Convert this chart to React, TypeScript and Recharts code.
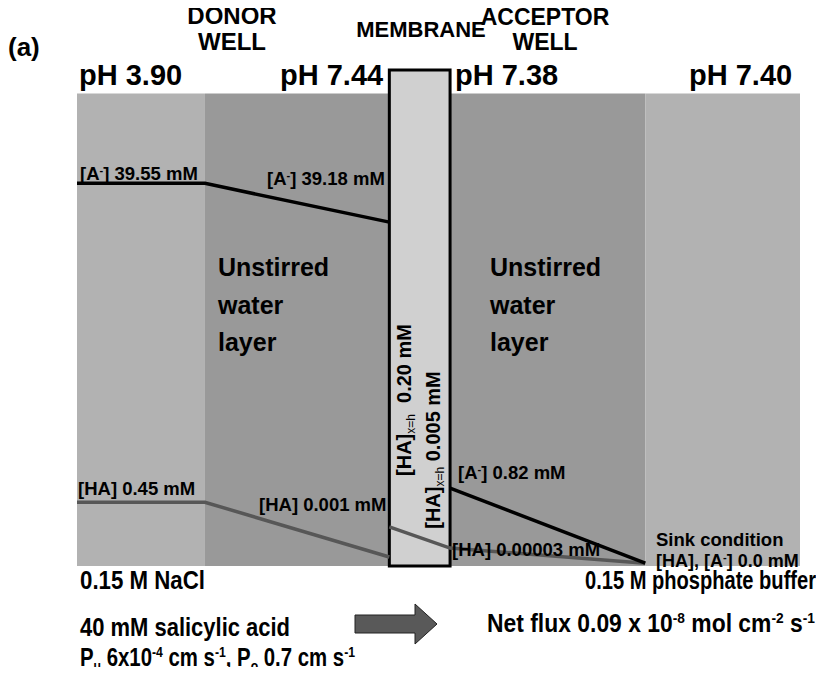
import React from 'react';
import { ComposedChart, Line, XAxis, YAxis, ReferenceArea } from 'recharts';

// schematic position across the cell (0 = donor bulk edge, 100 = acceptor bulk edge)
const regionEdges = [0, 17.7, 43.2, 51.6, 78.6, 100];
const regionNames = ['donor bulk', 'donor UWL', 'membrane', 'acceptor UWL', 'acceptor bulk'];
const regionTop = [100, 100, 105, 100, 100];

// drawn profile levels (schematic height, not to scale)
const donorX = [0, 17.7, 43.2];
const donorAminus = [81, 81, 72.8];
const donorHA = [13.5, 13.5, 1.9];
const acceptorX = [43.2, 51.6, 78.6];
const acceptorHA = [8.3, 3.8, 0.6];
const acceptorAminus = [null, 16.5, 0.6];

const pHLabels = ['pH 3.90', 'pH 7.44', 'pH 7.38', 'pH 7.40'];

const donorData = donorX.map((x, i) => ({ x, a: donorAminus[i], ha: donorHA[i] }));
const acceptorData = acceptorX.map((x, i) => ({ x, a: acceptorAminus[i], ha: acceptorHA[i] }));

const fills = ['#b2b2b2', '#999999', '#d0d0d0', '#999999', '#b2b2b2'];
const FONT = '"Liberation Sans", Arial, sans-serif';

type Part = [string, 'n' | 'sup' | 'sub' | 'subn'];

// text with super/subscripts; parts are [text, kind]
const R = ({ x, y, size = 18.5, anchor = 'start', parts, len, small }: any) => {
  const sm = small ?? Math.round(size * 0.6);
  const off = (k: string) => (k === 'sup' ? -size * 0.35 : k === 'sub' || k === 'subn' ? size * 0.2 : 0);
  let prev = 0;
  const list: Part[] = typeof parts === 'string' ? [[parts, 'n']] : parts;
  return (
    <text
      x={x}
      y={y}
      fontFamily={FONT}
      fontWeight="bold"
      fontSize={size}
      textAnchor={anchor}
      fill="#000"
      textLength={len}
      lengthAdjust={len ? 'spacingAndGlyphs' : undefined}
      xmlSpace="preserve"
    >
      {list.map(([t, k], i) => {
        const o = off(k);
        const dy = o - prev;
        prev = o;
        return (
          <tspan
            key={i}
            dy={dy || undefined}
            fontSize={k === 'n' ? size : sm}
            fontWeight={k === 'subn' ? 'normal' : 'bold'}
          >
            {t}
          </tspan>
        );
      })}
    </text>
  );
};

const Annotations = () => (
  <svg
    width={824}
    height={675}
    style={{ position: 'absolute', left: -8, top: -8, pointerEvents: 'none' }}
  >
    <R x={8} y={56} size={26} parts="(a)" />
    <R x={232} y={24} size={24} anchor="middle" parts="DONOR" />
    <R x={232} y={50} size={24} anchor="middle" parts="WELL" />
    <R x={421} y={37} size={22} anchor="middle" parts="MEMBRANE" />
    <R x={545} y={25} size={23} anchor="middle" parts="ACCEPTOR" />
    <R x={545} y={50} size={23} anchor="middle" parts="WELL" />
    {[79, 280, 455, 689].map((x, i) => (
      <R key={i} x={x} y={85} size={29} parts={pHLabels[i]} />
    ))}

    <R x={80} y={180} parts={[['[A', 'n'], ['-', 'sup'], ['] 39.55 mM', 'n']]} />
    <R x={267} y={185} parts={[['[A', 'n'], ['-', 'sup'], ['] 39.18 mM', 'n']]} />
    {[218, 490].map((x) => (
      <g key={x}>
        <R x={x} y={276} size={25} parts="Unstirred" />
        <R x={x} y={314} size={25} parts="water" />
        <R x={x} y={351} size={25} parts="layer" />
      </g>
    ))}
    <R x={78} y={495} parts="[HA] 0.45 mM" />
    <R x={259} y={511} parts="[HA] 0.001 mM" />
    <R x={458} y={479} parts={[['[A', 'n'], ['-', 'sup'], ['] 0.82 mM', 'n']]} />
    <R x={452} y={556} parts="[HA] 0.00003 mM" />
    <R x={656} y={546} size={18.5} parts="Sink condition" />
    <R x={656} y={567} size={18} parts={[['[HA], [A', 'n'], ['-', 'sup'], ['] 0.0 mM', 'n']]} />

    <g transform="translate(411,400) rotate(-90)">
      <R x={0} y={0} size={20} anchor="middle" small={12} parts={[['[HA]', 'n'], ['x=h', 'subn'], ['  0.20 mM', 'n']]} />
    </g>
    <g transform="translate(440,450) rotate(-90)">
      <R x={0} y={0} size={20} anchor="middle" small={12} parts={[['[HA]', 'n'], ['x=h', 'subn'], [' 0.005 mM', 'n']]} />
    </g>

    <R x={80} y={589} size={25} len={125} parts="0.15 M NaCl" />
    <R x={585} y={589} size={25} len={231} parts="0.15 M phosphate buffer" />
    <R x={80} y={636} size={25} len={210} parts="40 mM salicylic acid" />
    <R
      x={80}
      y={666}
      size={25}
      len={275}
      small={15}
      parts={[
        ['P', 'n'], ['u', 'sub'], [' 6x10', 'n'], ['-4', 'sup'], [' cm s', 'n'], ['-1', 'sup'],
        [', P', 'n'], ['o', 'sub'], [' 0.7 cm s', 'n'], ['-1', 'sup'],
      ]}
    />
    <polygon
      points="355,615 415,615 415,604 437,624 415,644 415,633 355,633"
      fill="#595959"
      stroke="#222"
      strokeWidth={1}
    />
    <R
      x={487}
      y={632}
      size={25}
      len={328}
      small={15}
      parts={[
        ['Net flux 0.09 x 10', 'n'], ['-8', 'sup'], [' mol cm', 'n'], ['-2', 'sup'], [' s', 'n'], ['-1', 'sup'],
      ]}
    />
  </svg>
);

export default function App() {
  return (
    <div style={{ position: 'relative', width: 816, height: 659 }}>
      <style>{'html,body{overflow:hidden}'}</style>
      <ComposedChart
        width={816}
        height={659}
        margin={{ top: 62, right: 24, bottom: 101, left: 69 }}
      >
        <XAxis type="number" dataKey="x" domain={[0, 100]} hide allowDataOverflow />
        <YAxis type="number" domain={[0, 105]} hide allowDataOverflow />
        {regionNames.map((name, i) =>
          i === 2 ? null : (
            <ReferenceArea
              key={name}
              x1={regionEdges[i]}
              x2={regionEdges[i + 1]}
              y1={0}
              y2={regionTop[i]}
              fill={fills[i]}
              fillOpacity={1}
              stroke="none"
              ifOverflow="visible"
            />
          )
        )}
        <ReferenceArea
          x1={regionEdges[2]}
          x2={regionEdges[3]}
          y1={0}
          y2={regionTop[2]}
          fill={fills[2]}
          fillOpacity={1}
          stroke="#000"
          strokeWidth={3}
          ifOverflow="visible"
        />
        <Line data={donorData} dataKey="a" stroke="#000" strokeWidth={3.5} dot={false} isAnimationActive={false} />
        <Line data={donorData} dataKey="ha" stroke="#575757" strokeWidth={3.5} dot={false} isAnimationActive={false} />
        <Line data={acceptorData} dataKey="ha" stroke="#575757" strokeWidth={3.5} dot={false} isAnimationActive={false} />
        <Line data={acceptorData} dataKey="a" stroke="#000" strokeWidth={3.5} dot={false} isAnimationActive={false} />
      </ComposedChart>
      <Annotations />
    </div>
  );
}
